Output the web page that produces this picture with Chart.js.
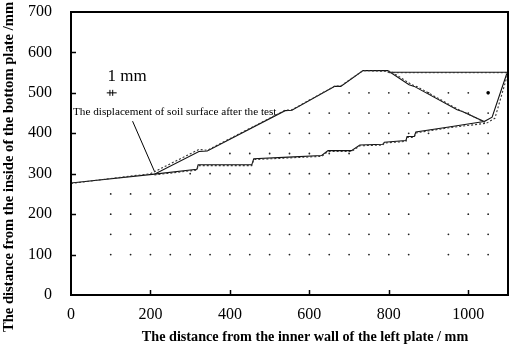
<!DOCTYPE html>
<html>
<head>
<meta charset="utf-8">
<script src="https://cdn.jsdelivr.net/npm/chart.js@4"></script>
<style>
  body { margin: 0; background: #fff; }
  #wrap { width: 512px; height: 347px; }
</style>
</head>
<body>
<div id="wrap"><canvas id="chart"></canvas></div>
<script>
// tick values
const xTickValues = [0, 200, 400, 600, 800, 1000];
const yTickValues = [0, 100, 200, 300, 400, 500, 600, 700];

// soil surface before the test (solid)
const upperX = [0, 210, 322, 343, 539, 556, 664, 679, 735, 797, 851, 864, 972, 985, 1040, 1060, 1097];
const upperY = [277, 299, 355, 356, 456, 457, 516, 516, 555, 555, 520, 516, 458, 454, 429, 440, 548];
const lowerX = [210, 317, 320, 455, 460, 548, 631, 647, 706, 727, 785, 789, 843, 846, 864, 868, 947, 1040];
const lowerY = [299, 311, 322, 322, 337, 341, 345, 357, 357, 371, 373, 378, 382, 392, 392, 403, 415, 429];
const topX = [797, 1100];
const topY = [551, 551];

// soil surface after the test (dashed)
const upperAfterX = [0, 200, 322, 343, 539, 556, 664, 679, 735, 805, 858, 872, 980, 993, 1046, 1067, 1100];
const upperAfterY = [276, 300, 360, 358, 457, 458, 517, 517, 555, 553, 520, 515, 456, 451, 425, 437, 549];
const lowerAfterX = [210, 317, 320, 455, 460, 548, 631, 647, 706, 727, 785, 789, 843, 846, 864, 868, 947, 1046];
const lowerAfterY = [297, 309, 320, 320, 335, 339, 343, 355, 355, 369, 371, 376, 380, 390, 390, 401, 413, 425];
const topAfterX = [800, 1100];
const topAfterY = [550, 550];

// marker dots, one list of x per row
const dotRowY = [500, 450, 400, 350, 300, 250, 200, 150, 100];
const dotRows = [
  [700, 750, 800, 850, 900, 950, 1000],
  [600, 650, 700, 750, 800, 850, 900, 950, 1000, 1050],
  [500, 550, 600, 650, 700, 750, 800, 850, 900, 950, 1000, 1050],
  [400, 450, 500, 550, 600, 650, 700, 750, 800, 850, 900, 950, 1000, 1050],
  [300, 350, 400, 450, 500, 550, 600, 650, 700, 750, 800, 850, 900, 950, 1000, 1050],
  [100, 150, 200, 250, 300, 350, 400, 450, 500, 550, 600, 650, 700, 750, 800, 900, 950, 1000, 1050],
  [100, 150, 200, 250, 300, 350, 400, 450, 500, 550, 600, 650, 700, 750, 800, 850, 1000, 1050],
  [100, 150, 200, 250, 300, 350, 400, 450, 500, 550, 600, 650, 700, 750, 800, 850, 950, 1000, 1050],
  [100, 150, 200, 250, 300, 350, 400, 450, 500, 550, 600, 650, 700, 750, 800, 850, 950, 1000, 1050]
];
const bigDotX = [1050];
const bigDotY = [500];

const serif = "'Liberation Serif', 'Times New Roman', serif";

function pts(xs, ys) {
  return xs.map((x, i) => ({ x: x, y: ys[i] }));
}

let dots = [];
dotRows.forEach((row, r) => {
  row.forEach(x => dots.push({ x: x, y: dotRowY[r] }));
});

function solid(xs, ys) {
  return { data: pts(xs, ys), showLine: true, borderColor: "#111", borderWidth: 1.1, pointRadius: 0, tension: 0 };
}
function dashed(xs, ys) {
  return { data: pts(xs, ys), showLine: true, borderColor: "#333", borderWidth: 1.1, borderDash: [2, 2], pointRadius: 0, tension: 0 };
}

function noPad(s) {
  s.paddingTop = 0;
  s.paddingBottom = 0;
  s.paddingLeft = 0;
  s.paddingRight = 0;
}

/******** frame, inner ticks, titles and notes ********/
const extras = {
  id: "extras",
  afterDatasetsDraw(chart) {
    const { ctx, chartArea: a, scales: { x, y } } = chart;
    ctx.save();
    ctx.strokeStyle = "#000";
    ctx.lineWidth = 1.5;
    ctx.beginPath();
    yTickValues.slice(1, -1).forEach(v => {
      let py = Math.round(y.getPixelForValue(v)) + 0.5;
      ctx.moveTo(a.left, py);
      ctx.lineTo(a.left + 5, py);
    });
    xTickValues.slice(1).forEach(v => {
      let px = Math.round(x.getPixelForValue(v)) + 0.5;
      ctx.moveTo(px, a.bottom);
      ctx.lineTo(px, a.bottom - 5);
    });
    ctx.stroke();

    ctx.lineWidth = 2;
    ctx.strokeRect(a.left, a.top, a.right - a.left, a.bottom - a.top);

    // 1 mm scale mark
    ctx.lineWidth = 1;
    ctx.beginPath();
    let sy = y.getPixelForValue(500);
    ctx.moveTo(x.getPixelForValue(90), sy);
    ctx.lineTo(x.getPixelForValue(115), sy);
    [98, 105].forEach(v => {
      let px = x.getPixelForValue(v);
      ctx.moveTo(px, sy - 3);
      ctx.lineTo(px, sy + 3);
    });
    ctx.stroke();

    ctx.fillStyle = "#000";
    ctx.font = "17px " + serif;
    ctx.textBaseline = "middle";
    ctx.textAlign = "left";
    ctx.fillText("1 mm", x.getPixelForValue(92), y.getPixelForValue(540));

    // note and leader line
    ctx.font = "11.2px " + serif;
    ctx.fillText("The displacement of soil surface after the test", x.getPixelForValue(5), y.getPixelForValue(453));
    ctx.beginPath();
    ctx.moveTo(x.getPixelForValue(155), y.getPixelForValue(430));
    ctx.lineTo(x.getPixelForValue(210), y.getPixelForValue(306));
    ctx.stroke();

    // axis titles
    ctx.textAlign = "center";
    ctx.font = "bold 14.2px " + serif;
    ctx.fillText("The distance from the inner wall of the left plate / mm", 305, 337);
    ctx.font = "bold 14.6px " + serif;
    ctx.translate(9, 167);
    ctx.rotate(-Math.PI / 2);
    ctx.fillText("The distance from the inside of the bottom plate /mm", 0, 0);
    ctx.restore();
  }
};

new Chart(document.getElementById("chart"), {
  type: "scatter",
  data: {
    datasets: [
      { data: dots, pointRadius: 0.9, pointBackgroundColor: "#222", pointBorderWidth: 0 },
      { data: pts(bigDotX, bigDotY), pointRadius: 1.8, pointBackgroundColor: "#000", pointBorderWidth: 0 },
      dashed(upperAfterX, upperAfterY),
      dashed(lowerAfterX, lowerAfterY),
      dashed(topAfterX, topAfterY),
      solid(upperX, upperY),
      solid(lowerX, lowerY),
      solid(topX, topY)
    ]
  },
  options: {
    responsive: true,
    maintainAspectRatio: false,
    animation: false,
    layout: { padding: { top: 12, right: 3, left: 0, bottom: 0 } },
    plugins: { legend: { display: false }, tooltip: { enabled: false } },
    scales: {
      x: {
        type: "linear",
        min: 0,
        max: 1100,
        afterBuildTicks: s => { s.ticks = xTickValues.map(v => ({ value: v })); },
        afterFit: s => { s.height = 52; noPad(s); },
        grid: { display: false, drawTicks: false },
        border: { display: false },
        ticks: { padding: 10, color: "#000", font: { family: serif, size: 16 }, maxRotation: 0, callback: v => String(v) }
      },
      y: {
        type: "linear",
        min: 0,
        max: 700,
        afterBuildTicks: s => { s.ticks = yTickValues.map(v => ({ value: v })); },
        afterFit: s => { s.width = 71; noPad(s); },
        grid: { display: false, drawTicks: false },
        border: { display: false },
        ticks: { padding: 19, color: "#000", font: { family: serif, size: 16 }, callback: v => String(v) }
      }
    }
  },
  plugins: [extras]
});
</script>
</body>
</html>
